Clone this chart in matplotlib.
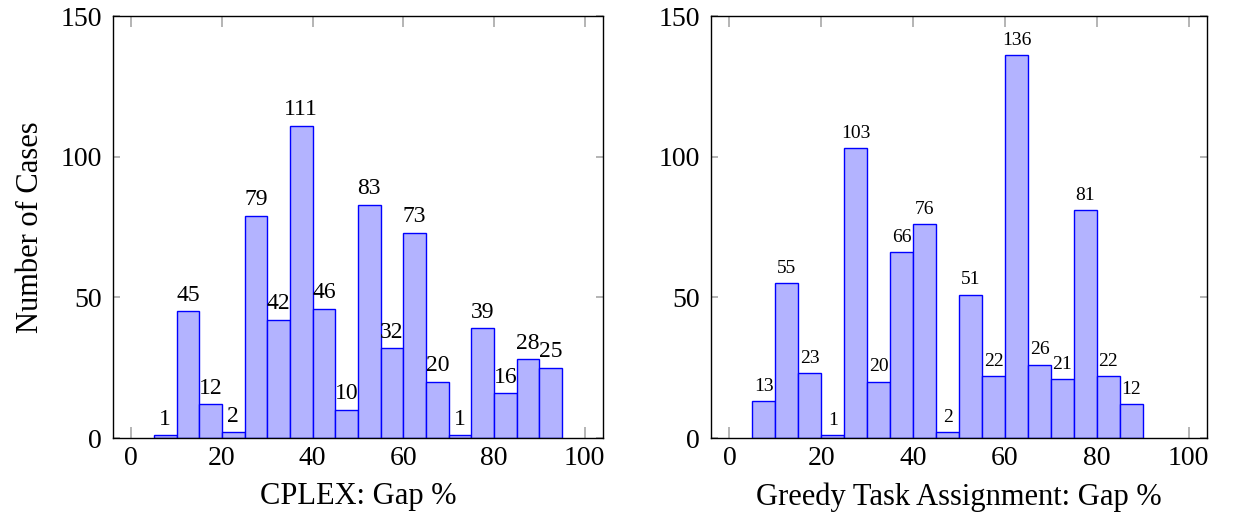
import numpy as np
import matplotlib
matplotlib.use("Agg")
import matplotlib.pyplot as plt

# histogram counts, 5 % wide bins
cplex_edges = np.arange(5, 100, 5)
cplex_counts = [1, 45, 12, 2, 79, 42, 111, 46, 10, 83, 32, 73, 20, 1, 39, 16, 28, 25]

greedy_edges = np.arange(5, 95, 5)
greedy_counts = [13, 55, 23, 1, 103, 20, 66, 76, 2, 51, 22, 136, 26, 21, 81, 22, 12]

x_ticks = [0, 20, 40, 60, 80, 100]
y_ticks = [0, 50, 100, 150]

plt.rcParams['font.family'] = ['Liberation Serif', 'DejaVu Serif']

FILL = '#b3b3ff'
EDGE = '#0000ff'


def draw_hist(ax, edges, counts, label_size):
    widths = np.diff(edges)
    bars = ax.bar(edges[:-1], counts, width=widths, align='edge',
                  color=FILL, edgecolor=EDGE, linewidth=1.0, zorder=2)
    for b, c in zip(bars, counts):
        ax.annotate(str(c), (b.get_x() + b.get_width() / 2, c),
                    xytext=(0, 7.5), textcoords='offset points',
                    ha='center', va='baseline', fontsize=label_size)
    ax.set_xlim(-4, 104)
    ax.set_ylim(0, 150)
    ax.set_xticks(x_ticks)
    ax.set_yticks(y_ticks)
    ax.tick_params(direction='in', top=True, right=True,
                   width=1.2, color='#a8a8a8', labelsize=20)
    ax.tick_params(axis='x', length=8, pad=6)
    ax.tick_params(axis='y', length=5, pad=8)
    for s in ax.spines.values():
        s.set_linewidth(1.0)
        s.set_zorder(3)


fig = plt.figure(figsize=(12.34, 5.25), dpi=100)
ax1 = fig.add_axes([0.0916, 0.1657, 0.397, 0.8038])
ax2 = fig.add_axes([0.5762, 0.1657, 0.402, 0.8038])

draw_hist(ax1, cplex_edges, cplex_counts, 17)
draw_hist(ax2, greedy_edges, greedy_counts, 14)

ax1.set_ylabel('Number of Cases', fontsize=22, labelpad=11)
ax1.set_xlabel('CPLEX: Gap %', fontsize=22, labelpad=8)
ax2.set_xlabel('Greedy Task Assignment: Gap %', fontsize=22, labelpad=8)

fig.savefig('out.png', dpi=100)
